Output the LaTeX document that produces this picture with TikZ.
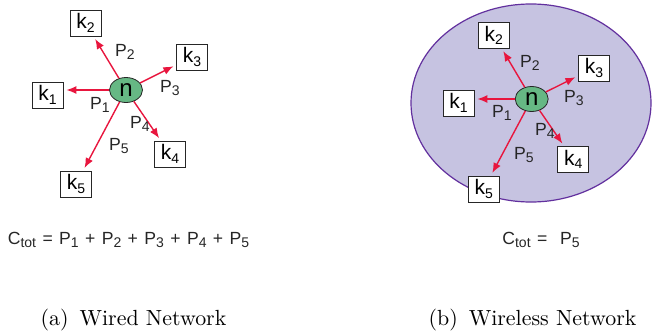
\documentclass[tikz,border=0pt]{standalone}
\usepackage{fontspec}
\newfontfamily\netsf{Liberation Sans}
\usepackage{tikz}
\usetikzlibrary{arrows.meta, positioning, shapes.geometric}
\definecolor{linkred}{RGB}{232,22,62}
\definecolor{nodegreen}{RGB}{102,184,132}
\definecolor{cellfill}{RGB}{198,195,225}
\definecolor{celledge}{RGB}{98,48,158}
\newcommand\lowidx[1]{\raisebox{-1.8pt}{\fontsize{7}{7}\selectfont #1}}
\newcommand\widespaces{\spaceskip=3.2pt\relax}

\begin{document}
\begin{tikzpicture}[x=0.5pt, y=-0.5pt,
    sender/.style={draw=black!85, fill=nodegreen, ellipse, minimum width=16.5pt, minimum height=12.5pt, inner sep=0pt, font=\netsf\fontsize{12}{12}\selectfont},
    receiver/.style={draw=black!85, fill=white, minimum width=15.5pt, minimum height=13pt, inner sep=0pt, font=\netsf\fontsize{10.5}{11}\selectfont},
    link/.style={draw=linkred, line width=0.7pt, -{Latex[length=5pt,width=4pt]}, shorten >=1.5pt},
    power/.style={font=\netsf\fontsize{8.8}{9}\selectfont, text=black!85},
    cost/.style={font=\netsf\fontsize{8.8}{9}\selectfont\widespaces, text=black!85},
    caption/.style={font=\fontsize{10.95}{13}\selectfont}]
  \useasboundingbox (0,0) rectangle (652,332);

  % (a) wired network
  \node[sender] (na) at (126,90) {n};
  \node[receiver] (ka1) at (47.5,95) {k\lowidx{1}};
  \node[receiver] (ka2) at (85.5,23) {k\lowidx{2}};
  \node[receiver] (ka3) at (192,57) {k\lowidx{3}};
  \node[receiver] (ka4) at (170,154) {k\lowidx{4}};
  \node[receiver] (ka5) at (76,184) {k\lowidx{5}};
  \draw[link] (na.west) -- (na.west -| ka1.east);
  \draw[link] (na) -- (ka2);
  \draw[link] (na) -- (ka3);
  \draw[link] (na) -- (ka4);
  \draw[link] (na) -- (ka5);
  \node[power] at (100,105) {P\lowidx{1}};
  \node[power] at (125,52) {P\lowidx{2}};
  \node[power] at (170,88) {P\lowidx{3}};
  \node[power] at (140,124) {P\lowidx{4}};
  \node[power] at (119,146) {P\lowidx{5}};
  \node[cost] (costa) at (128.5,240) {C\lowidx{tot} = P\lowidx{1} + P\lowidx{2} + P\lowidx{3} + P\lowidx{4} + P\lowidx{5}};
  \node[caption] (capa) at (133.5,320) {(a)\enspace Wired Network};

  % (b) wireless network
  \node[ellipse, draw=celledge, fill=cellfill, line width=0.6pt, minimum width=120pt, minimum height=99pt] (cell) at (531,103) {};
  \node[sender] (nb) at (531.7,99) {n};
  \node[receiver] (kb1) at (458.5,103) {k\lowidx{1}};
  \node[receiver] (kb2) at (493.8,35.2) {k\lowidx{2}};
  \node[receiver] (kb3) at (594,68) {k\lowidx{3}};
  \node[receiver] (kb4) at (573.3,159.5) {k\lowidx{4}};
  \node[receiver] (kb5) at (483.8,189) {k\lowidx{5}};
  \draw[link] (nb.west) -- (nb.west -| kb1.east);
  \draw[link] (nb) -- (kb2);
  \draw[link] (nb) -- (kb3);
  \draw[link] (nb) -- (kb4);
  \draw[link] (nb) -- (kb5);
  \node[power] at (502,113) {P\lowidx{1}};
  \node[power] at (530,63) {P\lowidx{2}};
  \node[power] at (574,98) {P\lowidx{3}};
  \node[power] at (545,131) {P\lowidx{4}};
  \node[power] at (524,155) {P\lowidx{5}};
  \node[cost] (costb) at (541,240) {C\lowidx{tot} = \ P\lowidx{5}};
  \node[caption] (capb) at (532.5,320) {(b)\enspace Wireless Network};
\end{tikzpicture}
\end{document}
